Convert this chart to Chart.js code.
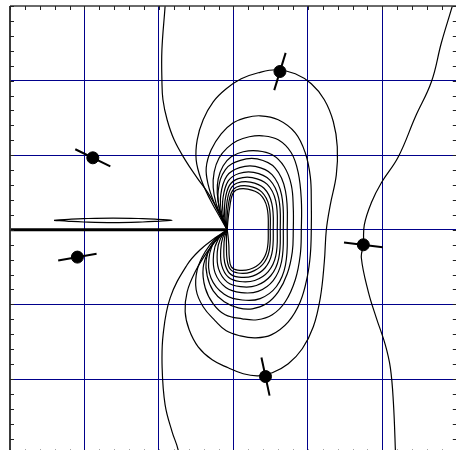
<!DOCTYPE html>
<html>
<head>
<meta charset="utf-8">
<script src="https://cdn.jsdelivr.net/npm/chart.js@4/dist/chart.umd.min.js"></script>
<style>
  html, body { margin: 0; padding: 0; overflow: hidden; background: #fff; }
  #wrap { position: absolute; left: 0; top: 0; width: 470px; height: 466px; }
</style>
</head>
<body>
<div id="wrap"><canvas id="c" width="470" height="466"></canvas></div>
<script>
// Crack-tip field: crack along y = 0 from the left edge up to the tip.
const crackTip = { x: -0.083, y: 0 };
const crackStartX = -3.2;

// Closed iso-lines through the tip, given relative to the tip (outer to inner).
const loopC = [[0,0],[-0.094,0.161],[-0.228,0.402],[-0.349,0.670],[-0.417,0.938],[-0.403,1.206],[-0.323,1.475],[-0.188,1.716],[-0.013,1.890],[0.188,2.024],[0.417,2.105],[0.672,2.145],[0.914,2.091],[1.129,1.957],[1.304,1.743],[1.425,1.448],[1.478,1.113],[1.465,0.737],[1.384,0.335],[1.331,0],[1.304,-0.429],[1.250,-0.912],[1.156,-1.300],[1.008,-1.595],[0.820,-1.796],[0.605,-1.917],[0.417,-1.957],[0.215,-1.930],[0.013,-1.850],[-0.202,-1.743],[-0.390,-1.568],[-0.511,-1.340],[-0.565,-1.099],[-0.538,-0.831],[-0.430,-0.563],[-0.269,-0.295],[-0.121,-0.107],[0,0]];
const loopD = [[0,0],[-0.081,0.161],[-0.175,0.362],[-0.255,0.603],[-0.282,0.831],[-0.215,1.072],[-0.081,1.287],[0.081,1.434],[0.242,1.501],[0.444,1.528],[0.685,1.475],[0.914,1.300],[1.048,1.032],[1.116,0.710],[1.129,0.375],[1.129,0],[1.116,-0.335],[1.075,-0.630],[0.981,-0.965],[0.820,-1.233],[0.591,-1.408],[0.376,-1.448],[0.175,-1.421],[-0.013,-1.354],[-0.161,-1.220],[-0.323,-1.032],[-0.417,-0.804],[-0.403,-0.536],[-0.296,-0.295],[-0.148,-0.107],[0,0]];
const loopE = [[0,0],[-0.067,0.147],[-0.148,0.349],[-0.188,0.563],[-0.175,0.777],[-0.108,0.965],[0,1.099],[0.134,1.193],[0.296,1.247],[0.470,1.260],[0.685,1.206],[0.860,1.032],[0.954,0.764],[0.995,0.402],[0.995,0],[0.981,-0.335],[0.914,-0.670],[0.780,-0.965],[0.605,-1.139],[0.403,-1.206],[0.202,-1.193],[-0.027,-1.139],[-0.188,-0.992],[-0.296,-0.777],[-0.323,-0.509],[-0.242,-0.268],[-0.108,-0.094],[0,0]];
const loopF = [[0,0],[-0.054,0.134],[-0.108,0.308],[-0.134,0.496],[-0.121,0.684],[-0.054,0.858],[0.054,0.979],[0.215,1.046],[0.403,1.059],[0.605,1.005],[0.766,0.845],[0.860,0.603],[0.887,0.295],[0.887,0],[0.874,-0.295],[0.806,-0.590],[0.685,-0.831],[0.524,-0.992],[0.336,-1.059],[0.148,-1.046],[-0.040,-0.965],[-0.188,-0.818],[-0.269,-0.617],[-0.282,-0.402],[-0.215,-0.214],[-0.094,-0.080],[0,0]];
const loopG = [[0,0],[-0.097,0.238],[-0.121,0.523],[-0.024,0.808],[0.177,0.931],[0.403,0.950],[0.645,0.827],[0.782,0.523],[0.806,0],[0.782,-0.475],[0.661,-0.760],[0.443,-0.922],[0.202,-0.941],[-0.040,-0.865],[-0.218,-0.646],[-0.242,-0.361],[-0.161,-0.143],[0,0]];
const loopH = [[0,0],[-0.073,0.213],[-0.087,0.468],[-0.004,0.723],[0.166,0.833],[0.377,0.850],[0.602,0.740],[0.730,0.468],[0.753,0],[0.730,-0.425],[0.617,-0.680],[0.414,-0.825],[0.188,-0.842],[-0.019,-0.774],[-0.163,-0.578],[-0.183,-0.323],[-0.123,-0.128],[0,0]];
const loopI = [[0,0],[-0.052,0.193],[-0.057,0.424],[0.014,0.655],[0.157,0.755],[0.356,0.770],[0.570,0.670],[0.691,0.424],[0.712,0],[0.691,-0.385],[0.584,-0.616],[0.392,-0.747],[0.178,-0.762],[0,-0.701],[-0.116,-0.524],[-0.133,-0.293],[-0.090,-0.116],[0,0]];
const loopJ = [[0,0],[-0.034,0.175],[-0.030,0.385],[0.030,0.595],[0.148,0.686],[0.336,0.700],[0.538,0.609],[0.652,0.385],[0.672,0],[0.652,-0.350],[0.551,-0.560],[0.370,-0.679],[0.168,-0.693],[0.017,-0.637],[-0.074,-0.476],[-0.087,-0.266],[-0.060,-0.105],[0,0]];
const loopK = [[0,0],[-0.017,0.160],[-0.006,0.352],[0.043,0.544],[0.136,0.627],[0.309,0.640],[0.494,0.557],[0.599,0.352],[0.618,0],[0.599,-0.320],[0.507,-0.512],[0.340,-0.621],[0.155,-0.634],[0.031,-0.582],[-0.035,-0.435],[-0.045,-0.243],[-0.033,-0.096],[0,0]];
const loopL = [[0,0],[-0.002,0.146],[0.014,0.322],[0.055,0.497],[0.127,0.573],[0.289,0.585],[0.462,0.509],[0.561,0.322],[0.578,0],[0.561,-0.293],[0.474,-0.468],[0.318,-0.567],[0.145,-0.579],[0.043,-0.532],[-0.002,-0.398],[-0.010,-0.222],[-0.010,-0.088],[0,0]];
const loopM = [[0,0],[0.011,0.136],[0.033,0.300],[0.066,0.463],[0.121,0.534],[0.276,0.545],[0.441,0.474],[0.534,0.300],[0.551,0],[0.534,-0.273],[0.452,-0.436],[0.303,-0.529],[0.138,-0.540],[0.055,-0.496],[0.028,-0.371],[0.022,-0.207],[0.011,-0.082],[0,0]];

// Open iso-lines (absolute coordinates).
const curveLeft = [[-0.910,3.15],[-0.917,3.003],[-0.960,2.413],[-0.960,2.011],[-0.946,1.743],[-0.890,1.475],[-0.796,1.206],[-0.648,0.938],[-0.487,0.697],[-0.325,0.469],[-0.191,0.228],[-0.083,0],[-0.245,-0.107],[-0.446,-0.268],[-0.621,-0.469],[-0.849,-0.912],[-0.944,-1.408],[-0.957,-1.850],[-0.917,-2.346],[-0.823,-2.708],[-0.742,-2.949],[-0.702,-3.217]];
const curveRight = [[2.98,3.15],[2.941,3.003],[2.793,2.507],[2.659,1.984],[2.444,1.515],[2.215,0.979],[1.987,0.630],[1.852,0.362],[1.758,0.067],[1.745,-0.201],[1.718,-0.375],[1.812,-0.831],[1.919,-1.180],[2.040,-1.542],[2.108,-1.850],[2.148,-2.306],[2.175,-2.949],[2.18,-3.2]];

// Thin lens-shaped iso-line above the crack.
const lens = [[-2.409,0.127],[-2.21,0.140],[-2.01,0.1495],[-1.616,0.157],[-1.22,0.1495],[-1.02,0.140],[-0.823,0.127],[-1.02,0.114],[-1.22,0.1045],[-1.616,0.097],[-2.01,0.1045],[-2.21,0.114],[-2.409,0.127]];

// Measurement points with their principal direction (degrees, clockwise on screen).
const markX = [-1.888, 0.625, -2.095, 1.745, 0.431];
const markY = [0.965, 2.122, -0.366, -0.201, -1.967];
const markAngle = [26, 107, -10, 7, 78];

const navy = '#00008b';
const ink = '#000';

const rel = arr => arr.map(p => ({ x: crackTip.x + p[0], y: crackTip.y + p[1] }));
const abs = arr => arr.map(p => ({ x: p[0], y: p[1] }));

const isoLine = (data, order) => ({
  data, showLine: true, borderColor: ink, borderWidth: 1.2, pointRadius: 0,
  tension: 0.4, fill: false, order
});

const loops = [loopC, loopD, loopE, loopF, loopG, loopH, loopI, loopJ, loopK, loopL, loopM];

const datasets = [
  { data: markX.map((x, i) => ({ x, y: markY[i] })), pointStyle: 'circle', pointRadius: 6,
    pointBackgroundColor: ink, pointBorderColor: ink, pointBorderWidth: 1, showLine: false, order: 0 },
  { data: markX.map((x, i) => ({ x, y: markY[i] })), pointStyle: 'line', pointRadius: 19.5,
    pointRotation: markAngle, pointBorderColor: ink, pointBorderWidth: 2, showLine: false, order: 1 },
  { data: [{ x: crackStartX, y: crackTip.y }, { x: crackTip.x, y: crackTip.y }], showLine: true,
    borderColor: ink, borderWidth: 3, pointRadius: 0, order: 2 },
  isoLine(abs(curveLeft), 3),
  isoLine(abs(curveRight), 3),
  isoLine(abs(lens), 3),
  ...loops.map(l => isoLine(rel(l), 4))
];

const edgeless = ctx => (Math.abs(ctx.tick.value) >= 3 ? 'rgba(0,0,0,0)' : navy);

const frame = {
  id: 'frame',
  afterDatasetsDraw(chart) {
    const { ctx, chartArea: a, scales: { x, y } } = chart;
    ctx.save();
    ctx.strokeStyle = '#3a3a3a';
    ctx.lineWidth = 1.5;
    ctx.beginPath();
    ctx.moveTo(a.left, a.top); ctx.lineTo(a.right, a.top);
    ctx.moveTo(a.right, a.top); ctx.lineTo(a.right, a.bottom);
    ctx.moveTo(a.left, a.bottom); ctx.lineTo(a.right, a.bottom);
    ctx.stroke();
    ctx.lineWidth = 2;
    ctx.beginPath();
    ctx.moveTo(a.left, a.top); ctx.lineTo(a.left, a.bottom);
    ctx.stroke();
    ctx.strokeStyle = '#222';
    ctx.lineWidth = 1;
    ctx.beginPath();
    for (let k = 0; k <= 30; k++) {
      const v = -3 + k * 0.2;
      const xp = Math.round(x.getPixelForValue(v)) + 0.5;
      const yp = Math.round(y.getPixelForValue(v)) + 0.5;
      ctx.moveTo(xp, a.top); ctx.lineTo(xp, a.top + 4);
      ctx.moveTo(xp, a.bottom); ctx.lineTo(xp, a.bottom - 4);
      ctx.moveTo(a.left, yp); ctx.lineTo(a.left + 4, yp);
      ctx.moveTo(a.right, yp); ctx.lineTo(a.right - 4, yp);
    }
    ctx.stroke();
    ctx.restore();
  }
};

new Chart(document.getElementById('c'), {
  type: 'scatter',
  data: { datasets },
  options: {
    responsive: false,
    animation: false,
    events: [],
    layout: { autoPadding: false, padding: { left: 10, top: 6, right: 13.2, bottom: 12.4 } },
    plugins: { legend: { display: false }, tooltip: { enabled: false } },
    scales: {
      x: { type: 'linear', min: -3, max: 3, ticks: { display: false, stepSize: 1 },
           grid: { drawTicks: false, color: edgeless, lineWidth: 1 }, border: { display: false } },
      y: { type: 'linear', min: -3, max: 3, ticks: { display: false, stepSize: 1 },
           grid: { drawTicks: false, color: edgeless, lineWidth: 1 }, border: { display: false } }
    }
  },
  plugins: [frame]
});
</script>
</body>
</html>
